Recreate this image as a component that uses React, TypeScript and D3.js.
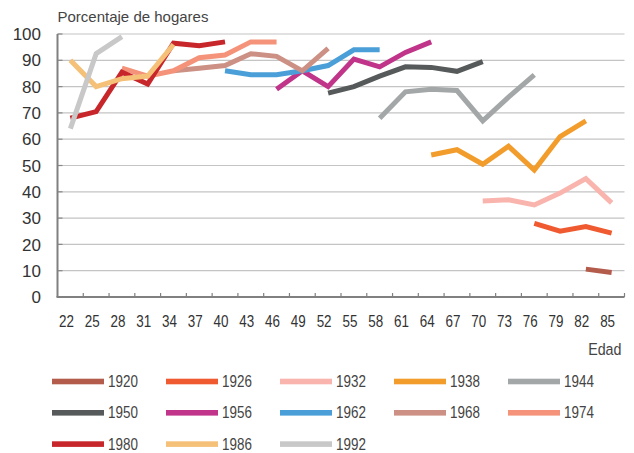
import React from 'react';
import * as d3 from 'd3';

const ages = [22, 25, 28, 31, 34, 37, 40, 43, 46, 49, 52, 55, 58, 61, 64, 67, 70, 73, 76, 79, 82, 85];
const yTicks = [0, 10, 20, 30, 40, 50, 60, 70, 80, 90, 100];

const cohorts = ['1920', '1926', '1932', '1938', '1944', '1950', '1956', '1962', '1968', '1974', '1980', '1986', '1992'];
const colors = ['#b35c4c', '#f05a30', '#f9b4ae', '#f29c2b', '#a4a7a8', '#575a5a', '#c0358a', '#4a9fd8', '#cc9084', '#f4937a', '#c7262a', '#f5c077', '#c8c8c8'];

// first age of each cohort and its values
const startAges = [82, 76, 70, 64, 58, 52, 46, 40, 34, 28, 22, 22, 22];
const values: number[][] = [
  [10.6, 9.3],
  [28, 25, 26.8, 24.3],
  [36.5, 37, 35, 39.5, 45, 35.8],
  [54, 56, 50.5, 57.3, 48.3, 61, 67],
  [68, 78, 79, 78.5, 67, 76, 84.5],
  [77.5, 80, 84, 87.5, 87.3, 85.8, 89.5],
  [79, 86, 80, 90.5, 87.5, 93, 97],
  [86, 84.5, 84.5, 86, 88, 94, 94],
  [86, 87, 88, 92.5, 91.5, 86, 94.5],
  [87, 84, 86, 91, 92, 97, 97],
  [68, 70.5, 85.5, 81, 96.5, 95.5, 97],
  [90, 80, 83, 84, 96],
  [64, 92.5, 99],
];

const font = "'Liberation Sans', Arial, sans-serif";

// condensed text: Liberation Sans squeezed horizontally
function Narrow({ x, y, anchor = 'start', size = 16, fill = '#333', children }: { x: number; y: number; anchor?: string; size?: number; fill?: string; children: React.ReactNode }) {
  return (
    <text transform={`translate(${x},${y}) scale(0.84,1)`} textAnchor={anchor} fontFamily={font} fontSize={size} fill={fill}>
      {children}
    </text>
  );
}

export default function App() {
  const width = 634;
  const height = 453;
  const left = 57.5;
  const right = 624.5;
  const top = 34;
  const bottom = 297;

  const x = d3.scaleBand<number>().domain(ages).range([left, right]).padding(0);
  const bw = x.bandwidth();
  const y = d3.scaleLinear().domain([0, 100]).range([bottom, top]);
  const cx = (a: number) => (x(a) as number) + bw / 2;

  const line = d3.line<[number, number]>()
    .x(d => cx(d[0]))
    .y(d => y(d[1]));

  const series = cohorts.map((c, i) => {
    const s = ages.indexOf(startAges[i]);
    return values[i].map((v, j) => [ages[s + j], v] as [number, number]);
  });

  return (
    <svg width={width} height={height} style={{ position: 'absolute', left: 0, top: 0 }}>
      <rect width={width} height={height} fill="#fff" />
      <text x={left} y={21.5} fontFamily={font} fontSize={15} fill="#444">Porcentaje de hogares</text>

      {yTicks.filter(t => t > 0).map(t => (
        <line key={'g' + t} x1={left} x2={right} y1={y(t)} y2={y(t)} stroke="#c4c4c4" strokeWidth={1.2} />
      ))}
      {yTicks.map(t => (
        <line key={'yt' + t} x1={left} x2={left + 5} y1={y(t)} y2={y(t)} stroke="#888" strokeWidth={1.2} />
      ))}
      {yTicks.map(t => (
        <text key={'yl' + t} x={41} y={y(t)} dy="0.36em" textAnchor="end" fontFamily={font} fontSize={17} fill="#333">{t}</text>
      ))}

      {series.map((s, i) => (
        <path key={cohorts[i]} d={line(s) || ''} fill="none" stroke={colors[i]} strokeWidth={5} strokeLinejoin="miter" />
      ))}

      <line x1={left} x2={left} y1={top} y2={bottom} stroke="#808080" strokeWidth={2} />
      <line x1={left - 1} x2={right} y1={bottom} y2={bottom} stroke="#808080" strokeWidth={2} />
      {ages.map(a => (
        <line key={'xt' + a} x1={(x(a) as number) + bw} x2={(x(a) as number) + bw} y1={bottom - 4} y2={bottom} stroke="#808080" strokeWidth={1.2} />
      ))}
      {ages.map(a => (
        <Narrow key={'xl' + a} x={cx(a) - 4} y={326.5} anchor="middle" size={16}>{a}</Narrow>
      ))}
      <Narrow x={621.5} y={355} anchor="end" size={17} fill="#444">Edad</Narrow>

      {cohorts.map((c, i) => {
        const col = i % 5;
        const row = Math.floor(i / 5);
        const lx = 52 + col * 114;
        const ly = 381.5 + row * 31.3;
        return (
          <g key={'lg' + c}>
            <rect x={lx} y={ly - 2.8} width={52} height={5.6} fill={colors[i]} />
            <Narrow x={lx + 56} y={ly + 5.5} size={16} fill="#444">{c}</Narrow>
          </g>
        );
      })}
    </svg>
  );
}
